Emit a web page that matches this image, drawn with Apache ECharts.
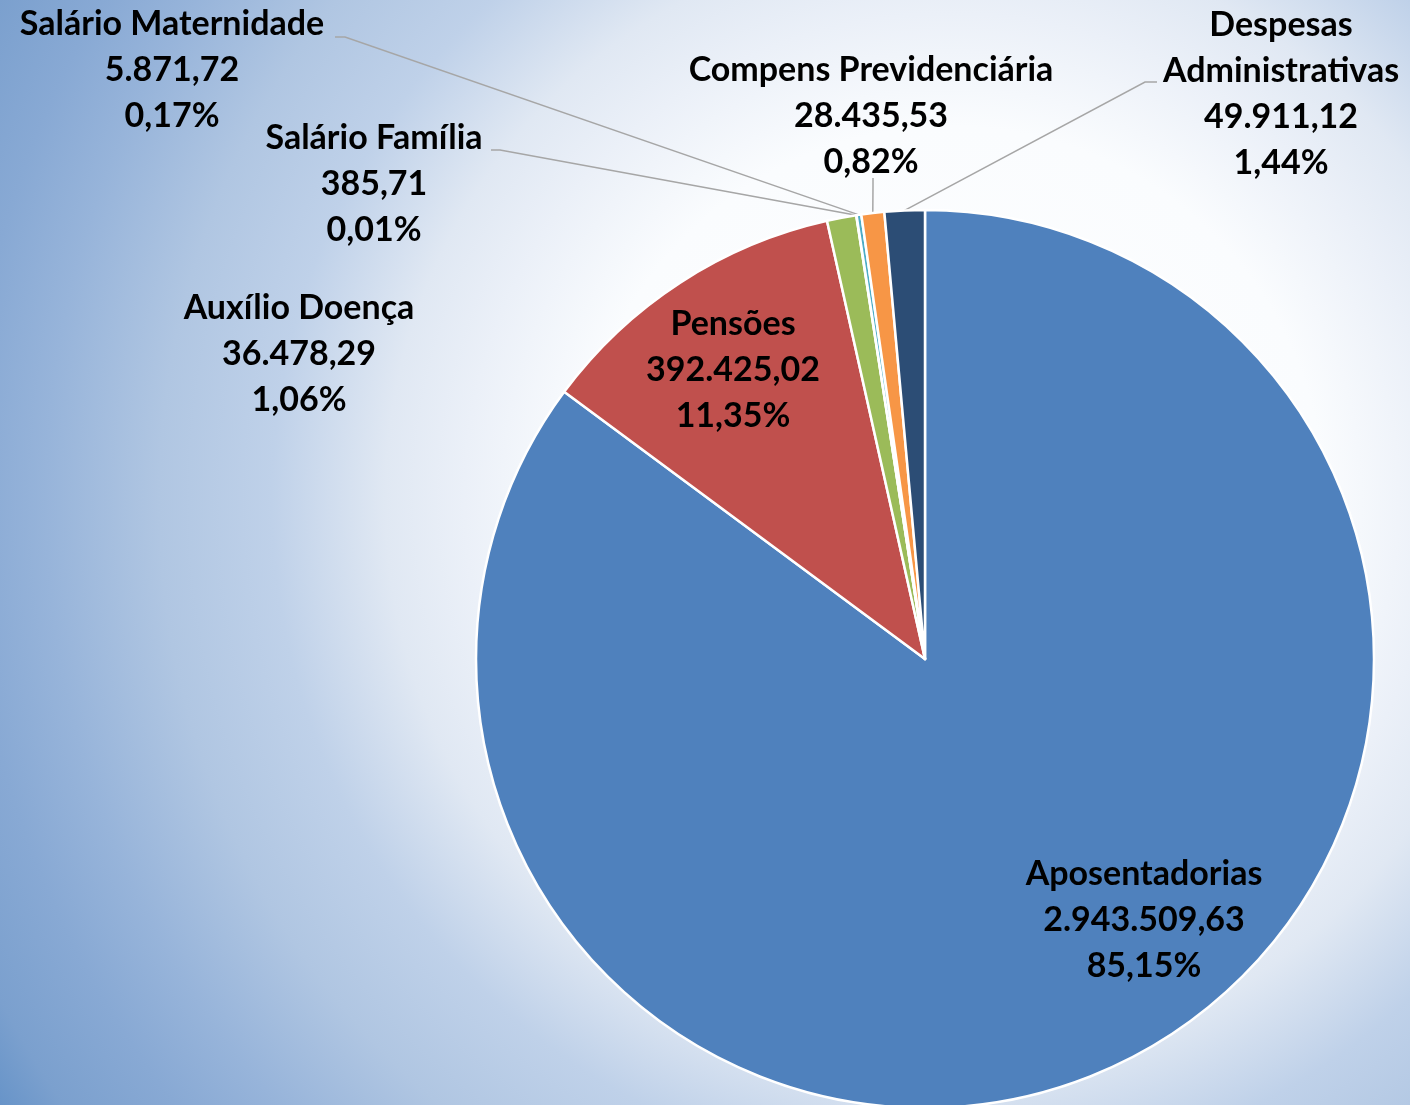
<!DOCTYPE html>
<html>
<head>
<meta charset="utf-8">
<script src="https://cdn.jsdelivr.net/npm/echarts@6/dist/echarts.min.js"></script>
<style>
  html, body { margin: 0; padding: 0; }
  #chart { width: 1410px; height: 1105px; }
</style>
</head>
<body>
<div id="chart"></div>
<script>
// ---- data ----
const categories = [
  'Aposentadorias',
  'Pensões',
  'Auxílio Doença',
  'Salário Família',
  'Salário Maternidade',
  'Compens Previdenciária',
  'Despesas Administrativas'
];
const values = [2943509.63, 392425.02, 36478.29, 385.71, 5871.72, 28435.53, 49911.12];

// ---- styling / layout (not data) ----
const colors = ['#4F81BD', '#C0504D', '#9BBB59', '#8064A2', '#4BACC6', '#F79646', '#2C4D75'];
const labelLayoutCfg = {
  'Aposentadorias':           { x: 1144, y: 920 },
  'Pensões':                  { x: 733,  y: 370 },
  'Auxílio Doença':           { x: 299,  y: 354 },
  'Salário Família':          { x: 374,  y: 184, line: [[500, 150], [491, 150]] },
  'Salário Maternidade':      { x: 172,  y: 70,  line: [[345, 37], [335, 37]] },
  'Compens Previdenciária':   { x: 871,  y: 116, line: [[873, 186], [873, 178]] },
  'Despesas Administrativas': { x: 1281, y: 94,  line: [[1145, 82], [1157, 82]] }
};
const insideLabels = ['Aposentadorias', 'Pensões'];
const noLine = ['Aposentadorias', 'Pensões', 'Auxílio Doença'];

function fmtNum(v) {
  const parts = v.toFixed(2).split('.');
  return parts[0].replace(/\B(?=(\d{3})+(?!\d))/g, '.') + ',' + parts[1];
}

const chart = echarts.init(document.getElementById('chart'), null, { renderer: 'canvas' });

const seriesData = categories.map((name, i) => ({
  name: name,
  value: values[i],
  itemStyle: { color: colors[i] },
  label: { position: insideLabels.includes(name) ? 'inside' : 'outside' },
  labelLine: { show: !noLine.includes(name) }
}));

chart.setOption({
  animation: false,
  backgroundColor: {
    type: 'radial', x: 0.674, y: 0.452, r: 1.023,
    colorStops: [
      { offset: 0.0,  color: '#FFFFFF' },
      { offset: 0.33, color: '#FAFCFE' },
      { offset: 0.43, color: '#EBF0F8' },
      { offset: 0.50, color: '#E0E8F3' },
      { offset: 0.60, color: '#BFD1E9' },
      { offset: 0.70, color: '#B0C6E2' },
      { offset: 0.80, color: '#97B4DA' },
      { offset: 0.87, color: '#88A9D4' },
      { offset: 0.95, color: '#7BA0CE' },
      { offset: 1.0,  color: '#6693C8' }
    ]
  },
  series: [{
    type: 'pie',
    center: [925, 659],
    radius: 449,
    startAngle: 90,
    clockwise: true,
    avoidLabelOverlap: false,
    percentPrecision: 2,
    emphasis: { disabled: true },
    itemStyle: { borderColor: '#FFFFFF', borderWidth: 2.5 },
    label: {
      show: true,
      fontFamily: 'Lato',
      fontWeight: 'bold',
      fontSize: 34,
      lineHeight: 46,
      color: '#000000',
      align: 'center',
      formatter: p => p.name.replace('Despesas ', 'Despesas\n') + '\n' + fmtNum(p.value) + '\n' +
        p.percent.toFixed(2).replace('.', ',') + '%'
    },
    labelLine: {
      lineStyle: { color: '#A6A6A6', width: 1.5 },
      length: 10, length2: 10
    },
    labelLayout: function (params) {
      const cfg = labelLayoutCfg[categories[params.dataIndex]];
      if (!cfg) return {};
      const out = { x: cfg.x, y: cfg.y, align: 'center', verticalAlign: 'middle' };
      if (cfg.line && params.labelLinePoints) {
        out.labelLinePoints = [params.labelLinePoints[0], cfg.line[0], cfg.line[1]];
      }
      return out;
    },
    data: seriesData
  }]
});
</script>
</body>
</html>
